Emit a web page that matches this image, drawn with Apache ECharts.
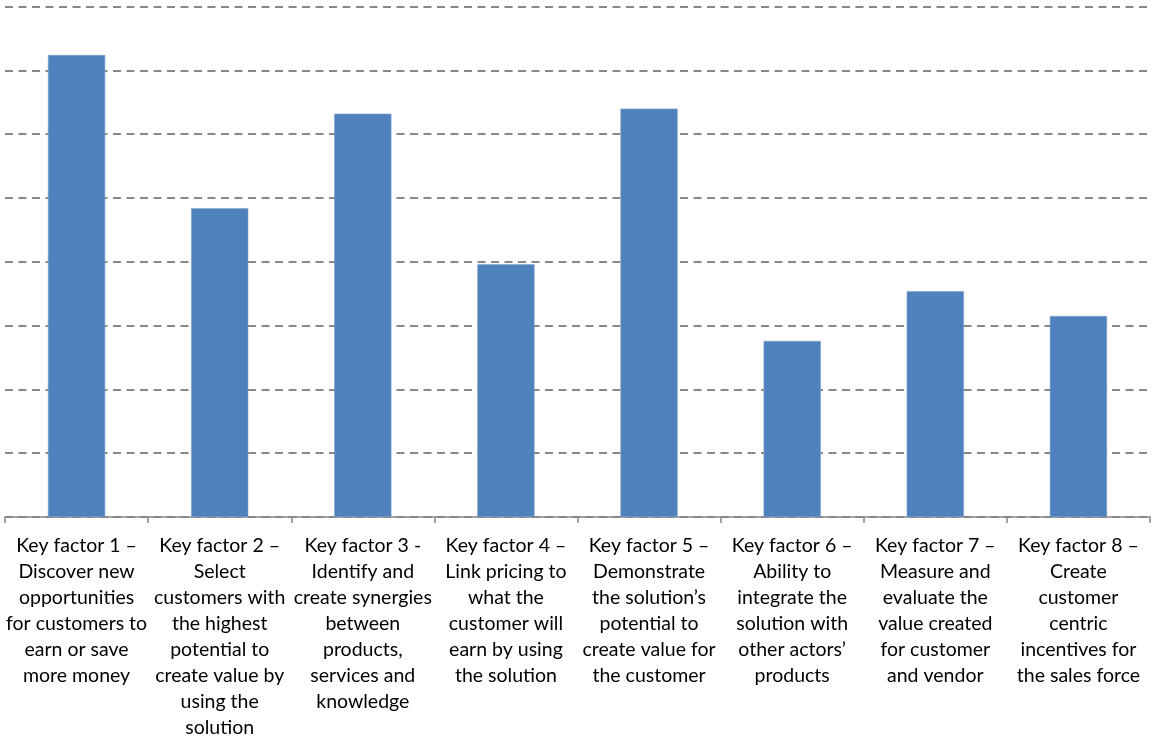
<!DOCTYPE html>
<html><head><meta charset="utf-8">
<script src="https://cdn.jsdelivr.net/npm/echarts@6/dist/echarts.min.js"></script>
<style>html,body{margin:0;padding:0;background:#fff}#c{width:1158px;height:738px}</style>
</head><body><div id="c"></div>
<script>
const categories = [
  "Key factor 1 –\nDiscover new\nopportunities\nfor customers to\nearn or save\nmore money",
  "Key factor 2 –\nSelect\ncustomers with\nthe highest\npotential to\ncreate value by\nusing the\nsolution",
  "Key factor 3 -\nIdentify and\ncreate synergies\nbetween\nproducts,\nservices and\nknowledge",
  "Key factor 4 –\nLink pricing to\nwhat the\ncustomer will\nearn by using\nthe solution",
  "Key factor 5 –\nDemonstrate\nthe solution’s\npotential to\ncreate value for\nthe customer",
  "Key factor 6 –\nAbility to\nintegrate the\nsolution with\nother actors’\nproducts",
  "Key factor 7 –\nMeasure and\nevaluate the\nvalue created\nfor customer\nand vendor",
  "Key factor 8 –\nCreate\ncustomer\ncentric\nincentives for\nthe sales force"
];
const values = [7.24, 4.84, 6.32, 3.96, 6.40, 2.76, 3.54, 3.15];
const yMin = 0, yMax = 8, yInterval = 1;

const chart = echarts.init(document.getElementById('c'), null, {renderer: 'canvas'});
chart.setOption({
  animation: false,
  grid: {left: 5, right: 8, top: 6.5, bottom: 221, containLabel: false, outerBoundsMode: 'none'},
  xAxis: {
    type: 'category', data: categories,
    axisLine: {lineStyle: {color: '#868686', width: 1.5}},
    axisTick: {show: true, length: 6, interval: 0, lineStyle: {color: '#868686', width: 1.5}},
    axisLabel: {interval: 0, margin: 16, color: '#000', fontFamily: 'Lato', fontSize: 19.5, lineHeight: 26, align: 'center'}
  },
  yAxis: {
    type: 'value', min: yMin, max: yMax, interval: yInterval,
    axisLine: {show: false}, axisTick: {show: false}, axisLabel: {show: false},
    splitLine: {lineStyle: {color: '#888888', width: 2, type: [8, 5.5]}}
  },
  series: [{
    type: 'bar', data: values, barWidth: '40%',
    itemStyle: {color: '#4F81BD', borderColor: '#7FA2CF', borderWidth: 0.6}
  }]
});
</script></body></html>
